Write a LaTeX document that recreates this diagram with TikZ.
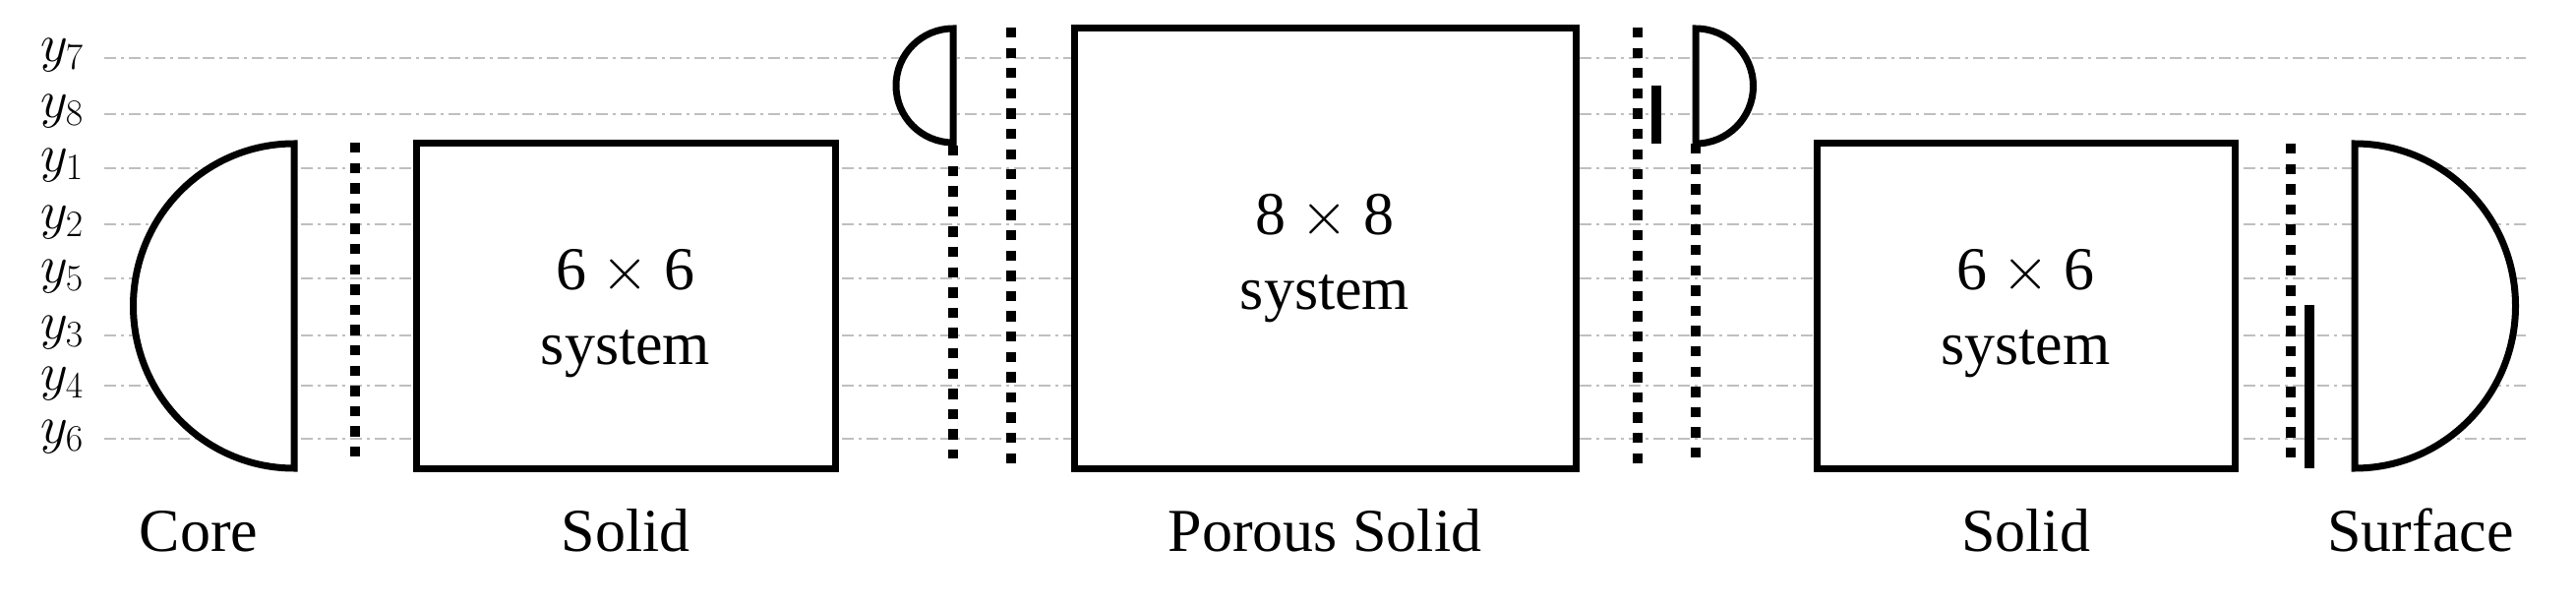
\RequirePackage{fix-cm}
\documentclass[tikz,border=0pt]{standalone}
\usepackage{fontspec}
\setmainfont{Liberation Serif}
\begin{document}
\begin{tikzpicture}[x=1pt,y=-1pt,
  guide/.style={draw=gray!50, line width=2pt, dash pattern=on 12pt off 5pt on 3pt off 5pt},
  shapeline/.style={draw=black, line width=7pt, fill=white, line join=miter},
  dotline/.style={draw=black, line width=10pt, dash pattern=on 10.3pt off 10.3pt},
  barline/.style={draw=black, line width=10pt},
  lbl/.style={font=\fontsize{62}{74}\selectfont, anchor=base, inner sep=0pt},
  ylab/.style={font=\fontsize{54}{64}\selectfont, anchor=base west, inner sep=0pt},
  sysbox/.style={draw=black, line width=7pt, fill=white, rectangle, inner sep=0pt}]
\useasboundingbox (0,0) rectangle (2619,615);
% guide lines and their labels
\foreach \n/\yy in {7/58.7,8/115.7,1/170.7,2/228,5/283,3/340.7,4/392,6/446}{
  \coordinate (gL\n) at (106,\yy);
  \coordinate (gR\n) at (2572,\yy);
  \draw[guide] (gL\n) -- (gR\n);
  \node[ylab] (lab\n) at (41,\yy+4) {$y_{\n}$};
}
% core and surface half disks
\draw[shapeline] (299,146) arc[start angle=90, end angle=270, x radius=163.5pt, y radius=165pt] -- cycle;
\draw[shapeline] (2394,146) arc[start angle=90, end angle=-90, x radius=163.5pt, y radius=165pt] -- cycle;
% small half disks
\draw[shapeline] (969,29) arc[start angle=90, end angle=270, radius=58pt] -- cycle;
\draw[shapeline] (1724,29) arc[start angle=90, end angle=-90, radius=58.5pt] -- cycle;
% boxes
\node[sysbox, minimum width=426pt, minimum height=330pt] (solidA) at (636,311) {};
\node[sysbox, minimum width=510pt, minimum height=447pt] (porous) at (1347,252.5) {};
\node[sysbox, minimum width=425pt, minimum height=330pt] (solidB) at (2059.5,311) {};
\node[lbl] (tA1) at (636,294) {6\hspace{15pt}$\times$\hspace{15pt}6};
\node[lbl] (tA2) at (636,370) {system};
\node[lbl] (tP1) at (1347,238) {8\hspace{15pt}$\times$\hspace{15pt}8};
\node[lbl] (tP2) at (1347,314) {system};
\node[lbl] (tB1) at (2059.5,294) {6\hspace{15pt}$\times$\hspace{15pt}6};
\node[lbl] (tB2) at (2059.5,370) {system};
% dotted interfaces
\coordinate (d1t) at (361,145);  \coordinate (d1b) at (361,466);
\coordinate (d2t) at (969,148);  \coordinate (d2b) at (969,466);
\coordinate (d3t) at (1028,28);  \coordinate (d3b) at (1028,471);
\coordinate (d4t) at (1665,28);  \coordinate (d4b) at (1665,471);
\coordinate (d5t) at (1724,146); \coordinate (d5b) at (1724,466);
\coordinate (d6t) at (2329,146); \coordinate (d6b) at (2329,466);
\foreach \i in {1,...,6}{ \draw[dotline] (d\i t) -- (d\i b); }
% thick bars
\coordinate (b1t) at (1684,87);  \coordinate (b1b) at (1684,146);
\coordinate (b2t) at (2348,310); \coordinate (b2b) at (2348,476);
\draw[barline] (b1t) -- (b1b);
\draw[barline] (b2t) -- (b2b);
% bottom labels
\node[lbl] (core) at (202,560) {Core};
\node[lbl] (solidAl) at (636,560) {Solid};
\node[lbl] (porousl) at (1347,560) {Porous Solid};
\node[lbl] (solidBl) at (2059.5,560) {Solid};
\node[lbl] (surf) at (2461,560) {Surface};
\end{tikzpicture}
\end{document}
